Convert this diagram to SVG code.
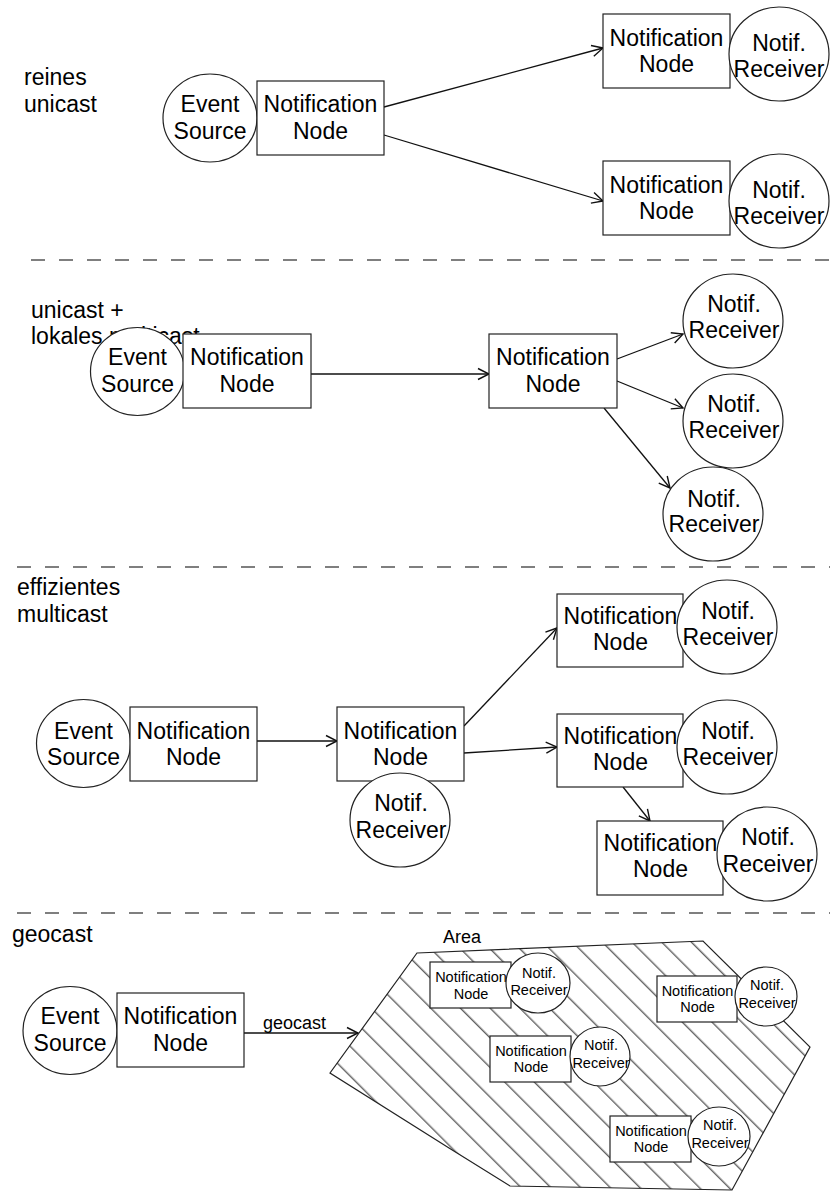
<svg xmlns="http://www.w3.org/2000/svg" width="830" height="1191" viewBox="0 0 830 1191">
  <style>
    .box { fill: #fff; stroke: #222; stroke-width: 1.2; }
    .t { font-family: "Liberation Sans", Arial, sans-serif; font-size: 23px; fill: #000; text-anchor: middle; }
    .sm { font-size: 14.5px; }
    .mid { font-size: 18px; }
    .head { text-anchor: start; }
    .conn { stroke: #111; stroke-width: 1.3; fill: none; marker-end: url(#arr); }
    .sep { stroke: #555; stroke-width: 1.5; stroke-dasharray: 14 14; fill: none; }
    .area { fill: url(#hatch); stroke: #222; stroke-width: 1.2; }
  </style>
  <defs>
    <marker id="arr" markerUnits="userSpaceOnUse" markerWidth="14" markerHeight="14" refX="12" refY="6" orient="auto" viewBox="0 0 14 12">
      <path d="M1,0.5 L12,6 L1,11.5" fill="none" stroke="#111" stroke-width="1.4"/>
    </marker>
    <pattern id="hatch" patternUnits="userSpaceOnUse" width="21" height="21" patternTransform="rotate(-45)">
      <rect width="21" height="21" fill="#fff"/>
      <line x1="11.8" y1="-1" x2="11.8" y2="22" stroke="#222" stroke-width="1"/>
    </pattern>
  </defs>

  <rect width="830" height="1191" fill="#fff"/>

  <!-- section separators -->
  <g id="separators">
    <line class="sep" x1="31" y1="260" x2="830" y2="260"/>
    <line class="sep" x1="17" y1="567" x2="830" y2="567"/>
    <line class="sep" x1="17" y1="913" x2="830" y2="913"/>
  </g>

  <!-- section headings -->
  <g id="headings">
    <text class="t head" x="24" y="85">reines</text>
    <text class="t head" x="24" y="111.5">unicast</text>
    <text class="t head" x="31" y="318">unicast +</text>
    <text class="t head" x="31" y="344">lokales multicast</text>
    <text class="t head" x="17" y="595">effizientes</text>
    <text class="t head" x="17" y="622">multicast</text>
    <text class="t head" x="12" y="942">geocast</text>
  </g>

  <!-- connectors -->
  <g id="connectors">
    <line class="conn" x1="384" y1="107" x2="603" y2="48"/>
    <line class="conn" x1="384" y1="135" x2="603" y2="201"/>

    <line class="conn" x1="311" y1="374" x2="489" y2="374"/>
    <line class="conn" x1="617" y1="359" x2="683" y2="334"/>
    <line class="conn" x1="617" y1="381" x2="683" y2="408"/>
    <line class="conn" x1="604" y1="408" x2="670" y2="488"/>

    <line class="conn" x1="257" y1="741" x2="337" y2="741"/>
    <line class="conn" x1="464" y1="726" x2="557" y2="628"/>
    <line class="conn" x1="464" y1="753" x2="557" y2="747"/>
    <line class="conn" x1="623" y1="787" x2="650" y2="821"/>

    <line class="conn" x1="244" y1="1033" x2="358" y2="1033"/>
    <text class="t mid head" x="263" y="1029">geocast</text>
  </g>

  <!-- reines unicast -->
  <g id="s1-source">
    <ellipse class="box" cx="210" cy="118" rx="47" ry="44"/>
    <text class="t" x="210" y="112">Event</text>
    <text class="t" x="210" y="138.5">Source</text>
  </g>
  <g id="s1-node">
    <rect class="box" x="257" y="81" width="127" height="74"/>
    <text class="t" x="320.5" y="112">Notification</text>
    <text class="t" x="320.5" y="138.5">Node</text>
  </g>
  <g id="s1-node-a">
    <rect class="box" x="603" y="14" width="127" height="74"/>
    <text class="t" x="666.5" y="45.5">Notification</text>
    <text class="t" x="666.5" y="72">Node</text>
  </g>
  <g id="s1-recv-a">
    <ellipse class="box" cx="779" cy="54" rx="50" ry="47"/>
    <text class="t" x="779" y="51">Notif.</text>
    <text class="t" x="779" y="77">Receiver</text>
  </g>
  <g id="s1-node-b">
    <rect class="box" x="603" y="161" width="127" height="74"/>
    <text class="t" x="666.5" y="192.5">Notification</text>
    <text class="t" x="666.5" y="219">Node</text>
  </g>
  <g id="s1-recv-b">
    <ellipse class="box" cx="779" cy="201" rx="50" ry="47"/>
    <text class="t" x="779" y="198">Notif.</text>
    <text class="t" x="779" y="224">Receiver</text>
  </g>

  <!-- unicast + lokales multicast -->
  <g id="s2-source">
    <ellipse class="box" cx="137.5" cy="371.5" rx="47" ry="44"/>
    <text class="t" x="137.5" y="365">Event</text>
    <text class="t" x="137.5" y="392">Source</text>
  </g>
  <g id="s2-node">
    <rect class="box" x="183" y="334" width="128" height="74"/>
    <text class="t" x="247" y="365">Notification</text>
    <text class="t" x="247" y="392">Node</text>
  </g>
  <g id="s2-node-b">
    <rect class="box" x="489" y="334" width="128" height="74"/>
    <text class="t" x="553" y="365">Notification</text>
    <text class="t" x="553" y="391.5">Node</text>
  </g>
  <g id="s2-recv-a">
    <ellipse class="box" cx="733" cy="321" rx="50" ry="47"/>
    <text class="t" x="734" y="312">Notif.</text>
    <text class="t" x="734" y="337.5">Receiver</text>
  </g>
  <g id="s2-recv-b">
    <ellipse class="box" cx="733" cy="421" rx="50" ry="47"/>
    <text class="t" x="734" y="412">Notif.</text>
    <text class="t" x="734" y="437.5">Receiver</text>
  </g>
  <g id="s2-recv-c">
    <ellipse class="box" cx="713" cy="514" rx="50" ry="47"/>
    <text class="t" x="714" y="507">Notif.</text>
    <text class="t" x="714" y="532">Receiver</text>
  </g>

  <!-- effizientes multicast -->
  <g id="s3-source">
    <ellipse class="box" cx="83.5" cy="743.5" rx="47" ry="44"/>
    <text class="t" x="83.5" y="738.5">Event</text>
    <text class="t" x="83.5" y="765">Source</text>
  </g>
  <g id="s3-node">
    <rect class="box" x="130" y="707" width="127" height="74"/>
    <text class="t" x="193.5" y="738.5">Notification</text>
    <text class="t" x="193.5" y="765">Node</text>
  </g>
  <g id="s3-node-b">
    <rect class="box" x="337" y="707" width="127" height="74"/>
    <text class="t" x="400.5" y="738.5">Notification</text>
    <text class="t" x="400.5" y="765">Node</text>
  </g>
  <g id="s3-recv-b">
    <ellipse class="box" cx="400" cy="820" rx="50" ry="47"/>
    <text class="t" x="401" y="811">Notif.</text>
    <text class="t" x="401" y="838">Receiver</text>
  </g>
  <g id="s3-node-c">
    <rect class="box" x="557" y="594" width="126" height="73"/>
    <text class="t" x="620.5" y="623.5">Notification</text>
    <text class="t" x="620.5" y="650">Node</text>
  </g>
  <g id="s3-recv-c">
    <ellipse class="box" cx="727" cy="627" rx="50" ry="47"/>
    <text class="t" x="728" y="618.5">Notif.</text>
    <text class="t" x="728" y="645">Receiver</text>
  </g>
  <g id="s3-node-d">
    <rect class="box" x="557" y="714" width="126" height="73"/>
    <text class="t" x="620.5" y="743.5">Notification</text>
    <text class="t" x="620.5" y="770">Node</text>
  </g>
  <g id="s3-recv-d">
    <ellipse class="box" cx="727" cy="747" rx="50" ry="47"/>
    <text class="t" x="728" y="738.5">Notif.</text>
    <text class="t" x="728" y="765">Receiver</text>
  </g>
  <g id="s3-node-e">
    <rect class="box" x="597" y="821" width="126" height="74"/>
    <text class="t" x="660.5" y="851">Notification</text>
    <text class="t" x="660.5" y="877">Node</text>
  </g>
  <g id="s3-recv-e">
    <ellipse class="box" cx="767" cy="854" rx="50" ry="47"/>
    <text class="t" x="768" y="845">Notif.</text>
    <text class="t" x="768" y="872">Receiver</text>
  </g>

  <!-- geocast -->
  <g id="s4-source">
    <ellipse class="box" cx="70" cy="1030.5" rx="47" ry="44"/>
    <text class="t" x="70" y="1024">Event</text>
    <text class="t" x="70" y="1050.5">Source</text>
  </g>
  <g id="s4-node">
    <rect class="box" x="117" y="993" width="127" height="74"/>
    <text class="t" x="180.5" y="1024">Notification</text>
    <text class="t" x="180.5" y="1051">Node</text>
  </g>

  <g id="area">
    <polygon class="area" points="417,953 703,941 810,1047 732,1190 510,1186 449,1148 330,1073"/>
    <text class="t mid head" x="443" y="943">Area</text>
  </g>

  <g id="area-node-a">
    <rect class="box" x="430" y="962" width="81" height="46"/>
    <text class="t sm" x="471" y="982">Notification</text>
    <text class="t sm" x="471" y="999">Node</text>
  </g>
  <g id="area-recv-a">
    <ellipse class="box" cx="538" cy="983" rx="32" ry="30"/>
    <text class="t sm" x="539" y="977.5">Notif.</text>
    <text class="t sm" x="539" y="994.5">Receiver</text>
  </g>
  <g id="area-node-b">
    <rect class="box" x="657" y="976" width="80" height="46"/>
    <text class="t sm" x="697.5" y="995.5">Notification</text>
    <text class="t sm" x="697.5" y="1012">Node</text>
  </g>
  <g id="area-recv-b">
    <ellipse class="box" cx="766" cy="996.5" rx="31" ry="29.5"/>
    <text class="t sm" x="767" y="990">Notif.</text>
    <text class="t sm" x="767" y="1007.5">Receiver</text>
  </g>
  <g id="area-node-c">
    <rect class="box" x="490" y="1036" width="81" height="46"/>
    <text class="t sm" x="531" y="1055.5">Notification</text>
    <text class="t sm" x="531" y="1072">Node</text>
  </g>
  <g id="area-recv-c">
    <ellipse class="box" cx="600" cy="1056.5" rx="30" ry="29.5"/>
    <text class="t sm" x="601" y="1050">Notif.</text>
    <text class="t sm" x="601" y="1067.5">Receiver</text>
  </g>
  <g id="area-node-d">
    <rect class="box" x="610" y="1116" width="81" height="46"/>
    <text class="t sm" x="651" y="1135.5">Notification</text>
    <text class="t sm" x="651" y="1152">Node</text>
  </g>
  <g id="area-recv-d">
    <ellipse class="box" cx="719" cy="1136.5" rx="31" ry="29.5"/>
    <text class="t sm" x="720" y="1130">Notif.</text>
    <text class="t sm" x="720" y="1147.5">Receiver</text>
  </g>
</svg>
